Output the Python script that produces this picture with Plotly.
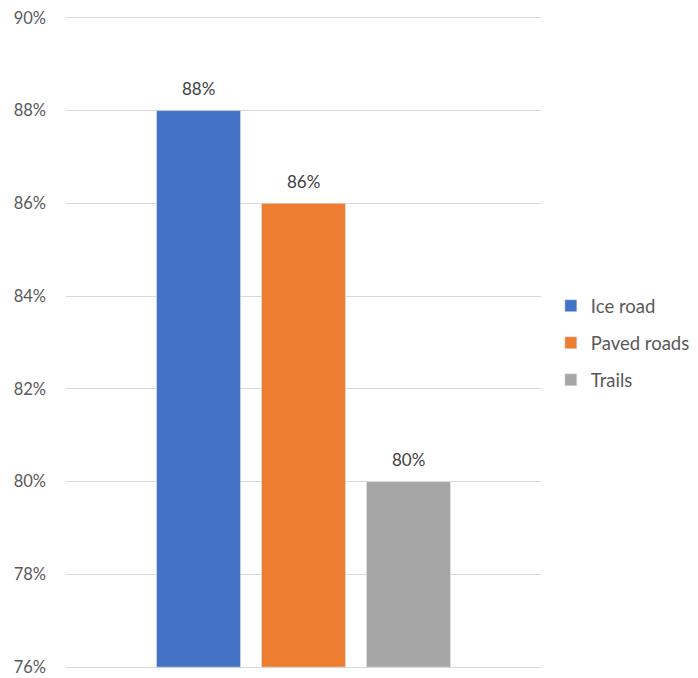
import plotly.graph_objects as go

series = ["Ice road", "Paved roads", "Trails"]
values = [0.88, 0.86, 0.80]
labels = ["88%", "86%", "80%"]
colors = ["#4472C4", "#ED7D31", "#A5A5A5"]
tick_vals = [0.76, 0.78, 0.80, 0.82, 0.84, 0.86, 0.88, 0.90]
tick_text = ["76%", "78%", "80%", "82%", "84%", "86%", "88%", "90%"]

FONT = "Lato, sans-serif"

fig = go.Figure()
for i, (name, v, c) in enumerate(zip(series, values, colors)):
    fig.add_trace(go.Bar(
        x=["All"], y=[v - 0.76], base=0.76, name=name, marker_color=c,
        offsetgroup=str(i), legendgroup=f"g{i}", hoverinfo="skip",
    ))

fig.update_layout(
    width=698, height=678,
    margin=dict(l=58, r=165, t=8, b=17, autoexpand=False),
    plot_bgcolor="white", paper_bgcolor="white",
    barmode="group", bargap=0.337, bargroupgap=0.2,
    font=dict(family=FONT, size=16.5, color="#595959"),
    legend=dict(x=1.0207, y=0.499, xanchor="left", yanchor="middle",
                traceorder="grouped", tracegroupgap=10, itemwidth=30,
                font=dict(size=18.5, color="#595959")),
    xaxis=dict(showticklabels=False, showgrid=False, zeroline=False,
               showline=False, automargin=False),
    yaxis=dict(range=[0.7596, 0.9004], tickvals=tick_vals, ticktext=tick_text,
               showgrid=True, gridcolor="#D9D9D9", gridwidth=1, zeroline=False,
               showline=False, ticks="", ticklabelstandoff=19, automargin=False,
               ticklabeloverflow="allow"),
)

n = len(series)
for i, (v, lab) in enumerate(zip(values, labels)):
    fig.add_annotation(
        x=0, y=v, xref="x", yref="y", text=lab, showarrow=False,
        xshift=(i - (n - 1) / 2) * 105, yshift=22,
        font=dict(family=FONT, size=17, color="#404040"),
    )

fig.write_html("out.html")
